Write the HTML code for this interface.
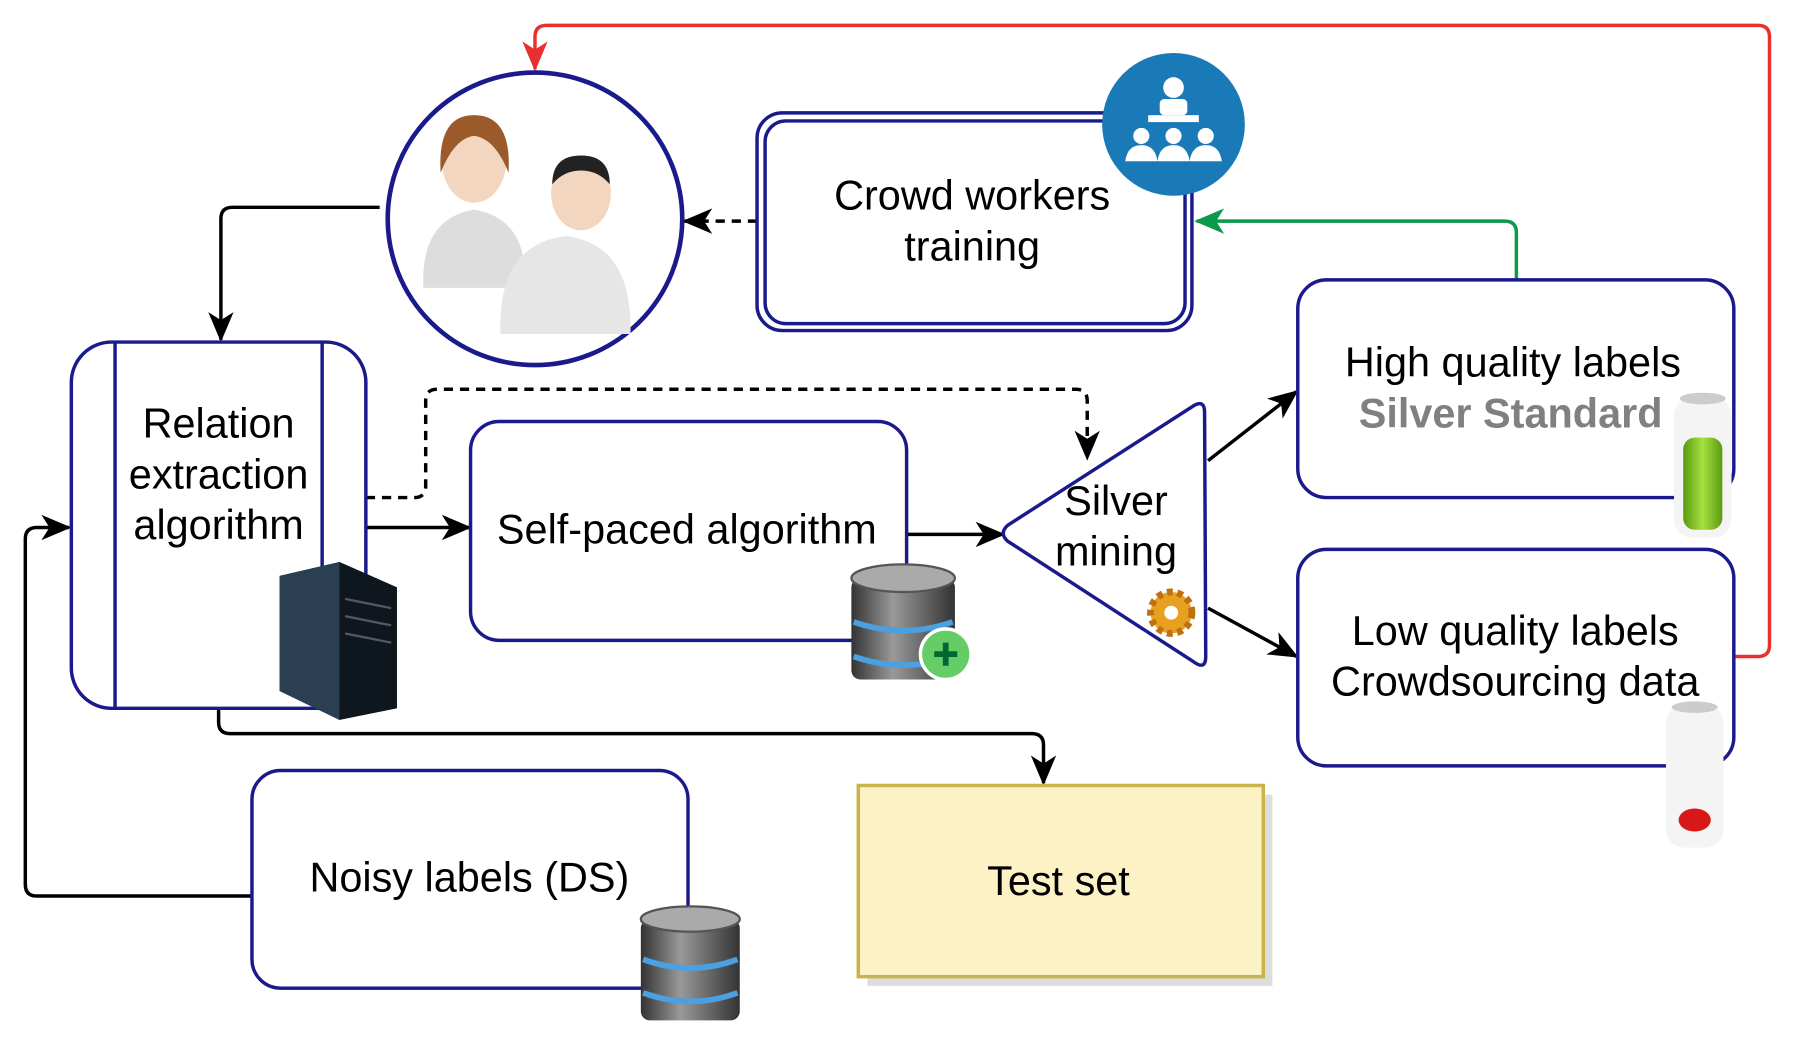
<!DOCTYPE html>
<html><head><meta charset="utf-8"><style>html,body{margin:0;padding:0;background:#fff}svg{display:block}</style></head>
<body>
<svg width="1804" height="1040" viewBox="0 0 1568 903" preserveAspectRatio="none" xmlns="http://www.w3.org/2000/svg" font-family="Liberation Sans, sans-serif">
<defs>
<marker id="ak" markerWidth="26" markerHeight="26" refX="24" refY="13" orient="auto" markerUnits="userSpaceOnUse"><path d="M0,2 L26,13 L0,24 L7,13 Z" fill="#000"/></marker>
<marker id="ar" markerWidth="26" markerHeight="26" refX="24" refY="13" orient="auto" markerUnits="userSpaceOnUse"><path d="M0,2 L26,13 L0,24 L7,13 Z" fill="#e83030"/></marker>
<marker id="ag" markerWidth="26" markerHeight="26" refX="24" refY="13" orient="auto" markerUnits="userSpaceOnUse"><path d="M0,2 L26,13 L0,24 L7,13 Z" fill="#0a9a4a"/></marker>
<linearGradient id="db" x1="0" x2="1"><stop offset="0" stop-color="#333"/><stop offset=".4" stop-color="#999"/><stop offset="1" stop-color="#333"/></linearGradient>
<linearGradient id="bg" x1="0" x2="1"><stop offset="0" stop-color="#5a9a10"/><stop offset=".5" stop-color="#a6e040"/><stop offset="1" stop-color="#5a9a10"/></linearGradient>
</defs>
<g fill="none" stroke-width="3">
<path d="M1508,570 H1528 Q1538,570 1538,560 V32 Q1538,22 1528,22 H475 Q465,22 465,32 V60" stroke="#e83030" marker-end="url(#ar)"/>
<path d="M1318,243 V202 Q1318,192 1308,192 H1040" stroke="#0a9a4a" marker-end="url(#ag)"/>
<path d="M330,180 H202 Q192,180 192,190 V295" stroke="#000" marker-end="url(#ak)"/>
<path d="M658,192 H595" stroke="#000" stroke-dasharray="8,6" marker-end="url(#ak)"/>
<path d="M318,432 H360 Q370,432 370,422 V348 Q370,338 380,338 H935 Q945,338 945,348 V398" stroke="#000" stroke-dasharray="8,6" marker-end="url(#ak)"/>
<path d="M318,458 H408" stroke="#000" marker-end="url(#ak)"/>
<path d="M782,464 H872" stroke="#000" marker-end="url(#ak)"/>
<path d="M1050,400 L1127,340" stroke="#000" marker-end="url(#ak)"/>
<path d="M1050,528 L1127,570" stroke="#000" marker-end="url(#ak)"/>
<path d="M190,615 V627 Q190,637 200,637 H897 Q907,637 907,647 V680" stroke="#000" marker-end="url(#ak)"/>
<path d="M219,778 H32 Q22,778 22,768 V468 Q22,458 32,458 H60" stroke="#000" marker-end="url(#ak)"/>
</g>
<ellipse cx="465" cy="190" rx="128" ry="127" fill="#fff" stroke="#1a1a8c" stroke-width="4"/>
<g>
<ellipse cx="412" cy="140" rx="28" ry="36" fill="#f3d6c0"/>
<path d="M383,150 Q380,100 412,100 Q445,100 442,150 Q430,120 412,118 Q395,120 383,150Z" fill="#9a5a2a"/>
<path d="M368,250 Q365,190 412,182 Q460,190 456,250Z" fill="#ddd"/>
<ellipse cx="505" cy="168" rx="26" ry="32" fill="#f3d6c0"/>
<path d="M480,160 Q480,135 505,135 Q530,135 530,160 Q520,148 505,148 Q490,148 480,160Z" fill="#222"/>
<path d="M435,290 Q432,212 492,205 Q550,212 548,290Z" fill="#e6e6e6"/>
</g>
<rect x="658" y="98" width="378" height="189" rx="22" fill="#fff" stroke="#1a1a8c" stroke-width="3"/>
<rect x="665" y="105" width="365" height="176" rx="18" fill="none" stroke="#1a1a8c" stroke-width="3"/>
<text x="845" y="182" font-size="36" text-anchor="middle">Crowd workers</text>
<text x="845" y="226" font-size="36" text-anchor="middle">training</text>
<circle cx="1020" cy="108" r="62" fill="#1a7ab8"/>
<g fill="#fff"><circle cx="1020" cy="76" r="9"/><rect x="1008" y="86" width="24" height="14" rx="4"/><rect x="998" y="100" width="44" height="6"/><circle cx="992" cy="118" r="7"/><circle cx="1020" cy="118" r="7"/><circle cx="1048" cy="118" r="7"/><path d="M978,140 Q980,126 992,126 Q1004,126 1006,140Z M1006,140 Q1008,126 1020,126 Q1032,126 1034,140Z M1034,140 Q1036,126 1048,126 Q1060,126 1062,140Z"/></g>
<rect x="62" y="297" width="256" height="318" rx="35" fill="#fff" stroke="#1a1a8c" stroke-width="3"/>
<line x1="100" y1="297" x2="100" y2="615" stroke="#1a1a8c" stroke-width="3"/>
<line x1="280" y1="297" x2="280" y2="615" stroke="#1a1a8c" stroke-width="3"/>
<text x="190" y="380" font-size="36" text-anchor="middle">Relation</text>
<text x="190" y="424" font-size="36" text-anchor="middle">extraction</text>
<text x="190" y="468" font-size="36" text-anchor="middle">algorithm</text>
<path d="M243,500 L295,488 L345,510 L345,615 L295,625 L243,600Z" fill="#1c2a36"/>
<path d="M295,488 L345,510 L345,615 L295,625Z" fill="#0f171e"/>
<path d="M243,500 L295,488 L295,625 L243,600Z" fill="#2a3f52"/>
<g stroke="#556" stroke-width="2"><line x1="300" y1="520" x2="340" y2="528"/><line x1="300" y1="535" x2="340" y2="543"/><line x1="300" y1="550" x2="340" y2="558"/></g>
<rect x="409" y="366" width="379" height="190" rx="25" fill="#fff" stroke="#1a1a8c" stroke-width="3"/>
<text x="597" y="472" font-size="36" text-anchor="middle">Self-paced algorithm</text>
<g><rect x="740" y="502" width="90" height="88" rx="8" fill="url(#db)"/><ellipse cx="785" cy="502" rx="45" ry="12" fill="#aaa" stroke="#555" stroke-width="2"/><path d="M742,540 Q785,555 828,540 M742,570 Q785,585 828,570" stroke="#4aa0e0" stroke-width="5" fill="none"/><circle cx="822" cy="568" r="22" fill="#6c6" stroke="#fff" stroke-width="3"/><path d="M812,568 H832 M822,558 V578" stroke="#063" stroke-width="5"/></g>
<path d="M876,456 L1038,352 Q1047,347 1047,358 L1048,570 Q1048,582 1038,575 L876,470 Q868,463 876,456Z" fill="#fff" stroke="#1a1a8c" stroke-width="3"/>
<text x="970" y="447" font-size="36" text-anchor="middle">Silver</text>
<text x="970" y="491" font-size="36" text-anchor="middle">mining</text>
<circle cx="1018" cy="532" r="18" fill="#e8a020" stroke="#c07010" stroke-width="6" stroke-dasharray="5,4"/><circle cx="1018" cy="532" r="6" fill="#fff"/>
<rect x="1128" y="243" width="379" height="189" rx="25" fill="#fff" stroke="#1a1a8c" stroke-width="3"/>
<text x="1315" y="327" font-size="36" text-anchor="middle">High quality labels</text>
<text x="1313" y="371" font-size="36" font-weight="bold" fill="#808080" text-anchor="middle">Silver Standard</text>
<rect x="1455" y="345" width="50" height="122" rx="16" fill="#f4f4f4"/><ellipse cx="1480" cy="346" rx="20" ry="5" fill="#ccc"/><rect x="1463" y="380" width="34" height="80" rx="10" fill="url(#bg)"/>
<rect x="1128" y="477" width="379" height="188" rx="25" fill="#fff" stroke="#1a1a8c" stroke-width="3"/>
<text x="1317" y="560" font-size="36" text-anchor="middle">Low quality labels</text>
<text x="1317" y="604" font-size="36" text-anchor="middle">Crowdsourcing data</text>
<rect x="1448" y="612" width="50" height="124" rx="16" fill="#f4f4f4"/><ellipse cx="1473" cy="614" rx="20" ry="5" fill="#ccc"/><ellipse cx="1473" cy="712" rx="14" ry="10" fill="#d81818"/>
<rect x="219" y="669" width="379" height="189" rx="25" fill="#fff" stroke="#1a1a8c" stroke-width="3"/>
<text x="408" y="774" font-size="36" text-anchor="middle">Noisy labels (DS)</text>
<g><rect x="557" y="798" width="86" height="88" rx="8" fill="url(#db)"/><ellipse cx="600" cy="798" rx="43" ry="11" fill="#aaa" stroke="#555" stroke-width="2"/><path d="M559,833 Q600,848 641,833 M559,862 Q600,877 641,862" stroke="#4aa0e0" stroke-width="5" fill="none"/></g>
<rect x="754" y="690" width="352" height="166" fill="#ddd"/>
<rect x="746" y="682" width="352" height="166" fill="#fdf2c6" stroke="#c8b44a" stroke-width="3"/>
<text x="920" y="777" font-size="36" text-anchor="middle">Test set</text>
</svg>
</body></html>
